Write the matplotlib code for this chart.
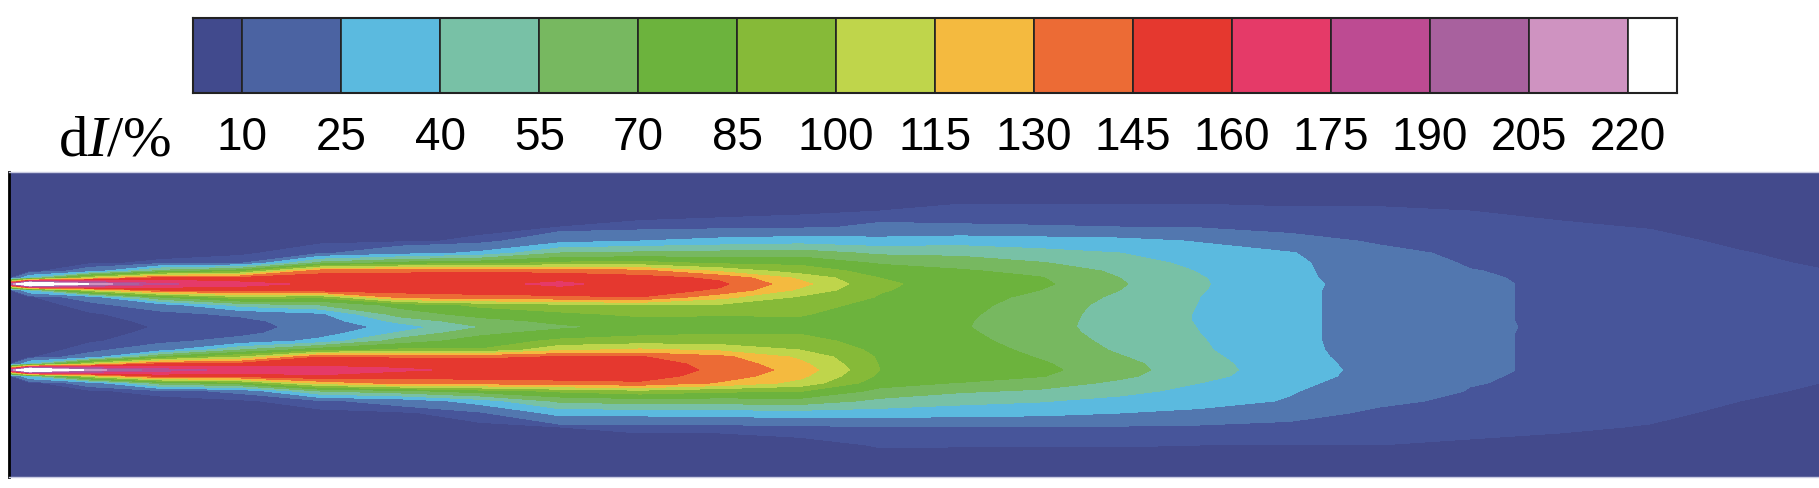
import numpy as np
import matplotlib
matplotlib.use("Agg")
import matplotlib.pyplot as plt

plt.rcParams["mathtext.fontset"] = "custom"
plt.rcParams["mathtext.rm"] = "Liberation Serif"
plt.rcParams["mathtext.it"] = "Liberation Serif:italic"

# colour bar levels (dI, %)
levels = [10, 25, 40, 55, 70, 85, 100, 115, 130, 145, 160, 175, 190, 205, 220]
tick_labels = [str(v) for v in levels]
cb_colors = ["#414A8D", "#4B63A2", "#5BBADF", "#78C1A6", "#77B860", "#6CB33D",
             "#86BA38", "#BFD54B", "#F4BA3F", "#EC6B35", "#E5382F", "#E53A68",
             "#BD4B92", "#A8619E", "#CF93C1", "#FFFFFF"]

# field bands: an extra faint band (5-10) shows up in the far field
field_levels = [-1, 5] + levels + [1000]
field_colors = ["#434A8C", "#47559A", "#5277AF"] + cb_colors[2:]

# sampling stations of the dI field (picture coordinates)
x_stations = [9, 30, 90, 160, 240, 320, 400, 480, 560, 640, 720, 800,
              880, 960, 1040, 1120, 1200, 1290, 1380, 1470, 1560, 1650, 1740, 1819]
y_stations = [173, 195, 212, 228, 242, 254, 264, 272, 279, 285, 291, 298, 306,
              315, 322, 328, 334, 342, 351, 358, 365, 371, 377, 384, 392, 402,
              414, 428, 446, 462, 478]

# dI values read at each station, top to bottom
di_x0009 = [1, 1, 1, 1, 1, 1, 1, 1.2, 3, 180, 3, 1.2, 1, 1, 1, 1, 1, 1, 1, 1.2, 3, 180, 3, 1.2, 1, 1, 1, 1, 1, 1, 1]
di_x0030 = [1.5, 1.5, 1.5, 1.5, 1.5, 1.5, 1.5, 2, 40, 290, 40, 4, 2.5, 2, 2, 1.5, 2, 2, 2.5, 4, 40, 290, 40, 2, 1.5, 1.5, 1.5, 1.5, 1.5, 1.5, 1.5]
di_x0090 = [1.5, 1.5, 2, 2, 2, 2.5, 4, 15, 110, 218, 110, 15, 7, 4.5, 3.5, 3, 3.5, 4.5, 7, 15, 110, 212, 110, 15, 4, 2.5, 2, 2, 2, 1.5, 1.5]
di_x0160 = [2, 2, 2, 2, 2.5, 3, 6, 60, 150, 178, 145, 70, 16, 7, 6, 5.3, 6, 7, 18, 72, 148, 182, 150, 62, 7, 3, 2.5, 2, 2, 2, 2]
di_x0240 = [2, 2, 2, 2.5, 3, 4, 8, 80, 150, 165, 152, 95, 45, 12, 7, 6.5, 7, 14, 55, 100, 150, 170, 150, 78, 12, 4, 3, 2.5, 2, 2, 2]
di_x0320 = [2, 2, 2.5, 3, 4, 8, 60, 140, 152, 157, 153, 88, 55, 22, 16, 13.5, 17, 30, 80, 145, 155, 168, 158, 120, 55, 8, 3.5, 2.5, 2, 2, 2]
di_x0400 = [2, 2, 2.5, 3, 4, 18, 75, 142, 152, 155, 152, 135, 75, 62, 45, 31.5, 42, 62, 88, 143, 155, 162, 152, 135, 65, 14, 4, 3, 2.5, 2, 2]
di_x0480 = [2, 2, 2.5, 3.5, 6, 28, 80, 143, 153, 156, 153, 140, 88, 76, 64, 54.5, 66, 77, 86, 142, 153, 157, 152, 136, 78, 32, 8, 3.5, 2.5, 2, 2]
di_x0560 = [2, 2.5, 3, 5, 20, 55, 88, 140, 155, 163, 155, 142, 95, 82, 74, 67, 76, 88, 112, 146, 153, 156, 152, 140, 88, 58, 30, 5, 3, 2.5, 2]
di_x0640 = [2, 2.5, 3.5, 6, 25, 58, 90, 135, 151, 153, 152, 145, 100, 88, 80, 74, 81, 92, 118, 146, 152, 153, 151, 143, 95, 62, 30, 6, 3, 2.5, 2]
di_x0720 = [2, 2.5, 3.5, 7, 30, 60, 82, 112, 142, 148, 143, 120, 98, 86, 82, 78, 84, 92, 112, 134, 140, 142, 139, 128, 88, 62, 32, 6, 3, 2.5, 2]
di_x0800 = [2, 3, 4, 8, 33, 62, 82, 92, 112, 120, 112, 98, 90, 86, 83, 79, 84, 90, 100, 112, 119, 124, 119, 110, 86, 64, 33, 7, 3.5, 2.5, 2]
di_x0880 = [2, 3, 5, 12, 30, 52, 68, 80, 85, 87, 86, 84, 81, 79, 78, 77, 78, 79, 81, 83, 84, 85, 82, 76, 66, 51, 33, 10, 5.3, 3.5, 2.5]
di_x0960 = [2, 3.5, 6, 11, 33, 51, 63, 72, 77, 80, 79, 77, 75, 73, 72, 71.5, 73, 75, 78, 80, 82, 82, 80, 69, 57, 45, 30, 10, 5.2, 3.5, 2.5]
di_x1040 = [2, 3.5, 6, 10.5, 31, 45, 56, 65, 71, 73, 70, 66, 63, 61.5, 60.5, 60, 61, 63, 66, 69, 72, 74, 71, 62, 53, 41, 29, 9.5, 5.2, 3.5, 2.5]
di_x1120 = [2, 3.5, 6, 10, 29, 40, 47, 52, 55, 56.5, 55, 52, 50, 49, 49, 49, 49.5, 51, 53, 56, 59, 60, 58, 52, 45, 35, 25, 9, 5.2, 3.5, 2.5]
di_x1200 = [2, 3.5, 6, 9, 24, 31, 36, 39, 41, 41.5, 41, 40, 39.5, 39, 39, 39.5, 40, 41, 42, 44, 46, 47, 45, 40, 35, 30, 22, 8, 5, 3.5, 2.5]
di_x1290 = [2, 3.5, 5.5, 7.5, 13, 26, 28, 28, 28, 28.5, 28, 28, 28, 28, 28, 28, 28, 28, 28.5, 29, 30, 30.5, 30, 28, 26, 24, 13, 8, 5, 3.5, 2.5]
di_x1380 = [2, 3.5, 5.5, 7, 9, 12, 15, 17, 18.5, 19.5, 19.5, 19.5, 19.5, 19.5, 19.5, 19.3, 19.5, 19.5, 19.5, 20, 20.5, 21, 20.5, 19, 17, 11.5, 8.5, 7, 5, 3.5, 2.5]
di_x1470 = [2, 3.5, 5, 6.5, 7.5, 8.5, 9.2, 10.3, 11, 11.5, 11.5, 11.5, 11.5, 11.5, 11.5, 11.7, 11.5, 11.5, 11.5, 11.5, 11.5, 11.5, 11, 10.5, 9.5, 8.5, 7.5, 6, 4.5, 3.5, 2.5]
di_x1560 = [2, 3, 4.2, 5.5, 6.5, 7.5, 8, 8.3, 8.5, 8.5, 8.5, 8.5, 8.5, 8.5, 8.5, 8.5, 8.5, 8.5, 8.5, 8.5, 8.5, 8.5, 8.3, 8, 7.5, 7, 6.5, 5.5, 4, 3, 2.5]
di_x1650 = [2, 2.5, 3.5, 4.8, 6, 6.8, 7.2, 7.5, 7.3, 7.3, 7.3, 7.3, 7.2, 7.1, 7, 7, 7, 7.1, 7.2, 7.3, 7.3, 7.3, 7.5, 7.2, 6.8, 6.3, 5.7, 4.8, 3.5, 2.5, 2]
di_x1740 = [2, 2.5, 3, 3.5, 4.3, 5.2, 5.8, 6.2, 6.3, 6.3, 6.2, 6.1, 6, 6, 6, 6, 6, 6, 6.1, 6.2, 6.3, 6.3, 6.3, 6, 5.6, 5, 4.3, 3.5, 3, 2.5, 2]
di_x1819 = [2, 2.3, 2.6, 3, 3.5, 4, 4.6, 5.2, 5.5, 5.6, 5.6, 5.5, 5.3, 5.2, 5.2, 5.2, 5.3, 5.5, 5.6, 5.6, 5.5, 5.4, 5.2, 5.0, 4.6, 4.2, 3.6, 3, 2.6, 2.3, 2]


def main():
    di = np.column_stack([
        di_x0009, di_x0030, di_x0090, di_x0160, di_x0240, di_x0320, di_x0400,
        di_x0480, di_x0560, di_x0640, di_x0720, di_x0800, di_x0880, di_x0960,
        di_x1040, di_x1120, di_x1200, di_x1290, di_x1380, di_x1470, di_x1560,
        di_x1650, di_x1740, di_x1819])

    fig = plt.figure(figsize=(18.19, 4.89), dpi=100)

    # contour field
    ax = fig.add_axes([9 / 1819, 11 / 489, 1810 / 1819, 305 / 489])
    ax.contourf(x_stations, y_stations, di, levels=field_levels, colors=field_colors)
    ax.set_xlim(9, 1819)
    ax.set_ylim(478, 173)
    ax.set_xticks([])
    ax.set_yticks([])
    ax.spines["left"].set_color("black")
    ax.spines["left"].set_linewidth(2)
    ax.spines["right"].set_visible(False)
    for side in ("top", "bottom"):
        ax.spines[side].set_color("#C9CBE2")
        ax.spines[side].set_linewidth(1)

    # colour bar with half-width end boxes
    cax = fig.add_axes([193 / 1819, (489 - 94) / 489, 1484 / 1819, 75 / 489])
    edges = [2.5] + levels + [227.5]
    cax.bar(edges[:-1], 1, width=np.diff(edges), align="edge", color=cb_colors,
            edgecolor="#222222", linewidth=1.2)
    cax.set_xlim(2.5, 227.5)
    cax.set_ylim(0, 1)
    cax.set_yticks([])
    cax.set_xticks(levels)
    cax.set_xticklabels(tick_labels, fontsize=33, family="Liberation Sans")
    cax.tick_params(axis="x", length=0, pad=15.5)
    for sp in cax.spines.values():
        sp.set_color("#222222")
        sp.set_linewidth(1.5)

    fig.text(171 / 1819, 1 - 155 / 489, r"d$\mathit{I}$/%", ha="right",
             va="baseline", fontsize=42, family="Liberation Serif")

    fig.savefig("out.png", dpi=100)


if __name__ == "__main__":
    main()
